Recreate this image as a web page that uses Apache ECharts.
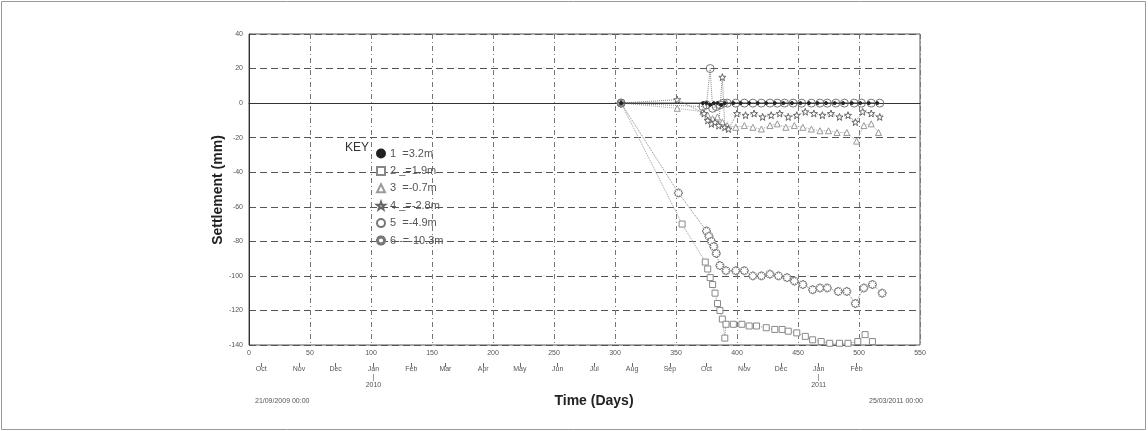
<!DOCTYPE html>
<html><head><meta charset="utf-8">
<script src="https://cdn.jsdelivr.net/npm/echarts@6.0.0/dist/echarts.min.js"></script>
<style>html,body{margin:0;padding:0;background:#fff}#c{width:1148px;height:431px}</style>
</head><body><div id="c"></div>
<script>
// ---- data ----
const monthDays  = [10,41,71,102,133,161,192,222,253,283,314,345,375,406,436,467,498];
const monthNames = ['Oct','Nov','Dec','Jan','Feb','Mar','Apr','May','Jun','Jul','Aug','Sep','Oct','Nov','Dec','Jan','Feb'];
const yearLabels = {102:'2010', 467:'2011'};
const seriesNames = ['1  =3.2m','2 _=1.9m','3  =-0.7m','4 _=-2.8m','5  =-4.9m','6 -=-10.3m'];
const startLabel = '21/09/2009 00:00';
const endLabel = '25/03/2011 00:00';

const s1 = [[305,0],[372,0],[375,0],[378,-1],[381,0],[384,0],[387,-1],[390,0],[397,0],[403,0],[410,0],[417,0],[424,0],[431,0],[438,0],[445,0],[452,0],[459,0],[466,0],[473,0],[480,0],[487,0],[494,0],[501,0],[508,0],[515,0]];
const s2 = [[305,0],[355,-70],[374,-92],[376,-96],[378,-101],[380,-105],[382,-110],[384,-116],[386,-120],[388,-125],[390,-136],[391,-128],[397,-128],[404,-128],[410,-129],[416,-129],[424,-130],[431,-131],[437,-131],[442,-132],[449,-133],[456,-135],[462,-137],[469,-138],[476,-139],[484,-139],[491,-139],[499,-138],[505,-134],[511,-138]];
const s3 = [[305,0],[351,-3],[372,-5],[376,-7],[380,-9],[384,-8],[388,-11],[392,-13],[399,-14],[406,-13],[413,-14],[420,-15],[427,-13],[433,-12],[440,-14],[447,-13],[454,-14],[461,-15],[468,-16],[475,-16],[482,-17],[490,-17],[498,-22],[504,-13],[510,-12],[516,-17]];
const s4 = [[305,0],[351,2],[373,-6],[376,-10],[379,-12],[382,-11],[385,-13],[388,15],[390,-14],[393,-15],[400,-6],[407,-7],[414,-6],[421,-8],[428,-7],[435,-6],[442,-8],[449,-7],[456,-5],[463,-6],[470,-7],[477,-6],[484,-8],[491,-7],[497,-11],[503,-5],[510,-6],[517,-8]];
const s5 = [[305,0],[372,-2],[375,-1],[378,20],[380,-3],[383,-2],[386,-1],[389,0],[392,0],[399,0],[406,0],[413,0],[420,0],[427,0],[433,0],[439,0],[446,0],[453,0],[461,0],[468,0],[474,0],[481,0],[488,0],[496,0],[502,0],[510,0],[517,0]];
const s6 = [[305,0],[352,-52],[375,-74],[377,-77],[379,-80],[381,-83],[383,-87],[386,-94],[391,-97],[399,-97],[406,-97],[413,-100],[420,-100],[427,-99],[434,-100],[441,-101],[447,-103],[454,-105],[462,-108],[468,-107],[474,-107],[483,-109],[490,-109],[497,-116],[504,-107],[511,-105],[519,-110]];

// ---- symbol shapes ----
function polyPath(n, rOut, rIn, rot) {
  const pts = [];
  for (let i = 0; i < n * 2; i++) {
    const a = rot + i * Math.PI / n;
    const r = i % 2 === 0 ? rOut : rIn;
    pts.push((50 + r * Math.cos(a)).toFixed(2) + ' ' + (50 + r * Math.sin(a)).toFixed(2));
  }
  return 'path://M' + pts.join(' L') + ' Z';
}
function gearPath() {
  const pts = [];
  for (let k = 0; k < 8; k++) {
    const c = k * Math.PI / 4;
    [[-0.42,36],[-0.2,50],[0.2,50],[0.42,36]].forEach(([d, r]) => {
      const a = c + d;
      pts.push((50 + r * Math.cos(a)).toFixed(2) + ' ' + (50 + r * Math.sin(a)).toFixed(2));
    });
  }
  return 'path://M' + pts.join(' L') + ' Z';
}
const starSym = polyPath(5, 50, 20, -Math.PI / 2);
const gearSym = gearPath();

const monthSet = new Set(monthDays);
const catData = Array.from({length: 551}, (_, i) => String(i));
const FONT = 'Liberation Sans';

const chart = echarts.init(document.getElementById('c'), null, {renderer: 'canvas'});

function mk(name, data, symbol, size, fill, stroke, lineColor, lineType, z) {
  return {
    name, type: 'line', data, symbol, symbolSize: size, z,
    xAxisIndex: 0, yAxisIndex: 0, animation: false,
    itemStyle: {color: fill, borderColor: stroke, borderWidth: 1},
    lineStyle: {color: lineColor, width: 1, type: lineType}
  };
}

chart.setOption({
  backgroundColor: '#fff',
  animation: false,
  textStyle: {fontFamily: FONT},
  grid: {left: 249, right: 228, top: 34, bottom: 86, show: true, borderColor: '#555', borderWidth: 1},
  xAxis: [{
    type: 'value', min: 0, max: 550, interval: 50, position: 'bottom',
    axisLine: {show: true, lineStyle: {color: '#333'}},
    axisTick: {show: false},
    axisLabel: {fontSize: 7, color: '#555', margin: 5},
    splitLine: {show: true, lineStyle: {color: '#777', type: [5, 3, 1, 3]}}
  }, {
    type: 'category', data: catData, boundaryGap: false, position: 'bottom', offset: 18,
    axisLine: {show: false},
    axisTick: {show: true, length: 4, interval: (i) => monthSet.has(i), lineStyle: {color: '#666'}},
    axisLabel: {
      show: true, interval: (i) => monthSet.has(i), margin: 2, fontSize: 7, color: '#555', lineHeight: 8,
      formatter: (v, i) => {
        const d = +v; const k = monthDays.indexOf(d);
        if (k < 0) return '';
        return yearLabels[d] ? monthNames[k] + '\n|\n' + yearLabels[d] : monthNames[k];
      }
    },
    splitLine: {show: false}
  }],
  yAxis: {
    type: 'value', min: -140, max: 40, interval: 20,
    axisLine: {show: true, lineStyle: {color: '#333'}},
    axisTick: {show: false},
    axisLabel: {fontSize: 7, color: '#555', margin: 6},
    splitLine: {show: true, lineStyle: {color: '#555', type: [7, 4]}}
  },
  legend: {
    orient: 'vertical', left: 371, top: 143, itemWidth: 8, itemHeight: 8, itemGap: 6.4,
    textStyle: {fontSize: 11, color: '#555', fontFamily: FONT},
    data: [
      {name: seriesNames[0], icon: 'circle'},
      {name: seriesNames[1], icon: 'rect'},
      {name: seriesNames[2], icon: 'triangle'},
      {name: seriesNames[3], icon: starSym},
      {name: seriesNames[4], icon: 'circle'},
      {name: seriesNames[5], icon: gearSym}
    ]
  },
  graphic: [
    {type: 'rect', shape: {x: 1.5, y: 1.5, width: 1144, height: 428}, style: {fill: 'none', stroke: '#999', lineWidth: 1}, silent: true},
    {type: 'text', left: 345, top: 142, style: {text: 'KEY', font: '12px Liberation Sans', fill: '#333'}},
    {type: 'text', x: 218, y: 190, rotation: Math.PI / 2, style: {text: 'Settlement (mm)', font: 'bold 14px Liberation Sans', fill: '#222', textAlign: 'center', textVerticalAlign: 'middle'}},
    {type: 'text', x: 594, y: 401, style: {text: 'Time (Days)', font: 'bold 14px Liberation Sans', fill: '#222', textAlign: 'center', textVerticalAlign: 'middle'}},
    {type: 'text', x: 255, y: 401, style: {text: startLabel, font: '7px Liberation Sans', fill: '#555', textVerticalAlign: 'middle'}},
    {type: 'text', x: 869, y: 401, style: {text: endLabel, font: '7px Liberation Sans', fill: '#555', textVerticalAlign: 'middle'}}
  ],
  series: [
    mk(seriesNames[1], s2, 'rect', 6, '#fff', '#888', '#999', 'dotted', 2),
    mk(seriesNames[5], s6, gearSym, 8, '#fff', '#777', '#888', 'dotted', 2),
    mk(seriesNames[2], s3, 'triangle', 6, '#fff', '#999', '#aaa', 'dotted', 3),
    mk(seriesNames[3], s4, starSym, 7, '#fff', '#666', '#888', 'dotted', 3),
    mk(seriesNames[4], s5, 'circle', 8, 'rgba(255,255,255,0)', '#777', '#888', 'dotted', 4),
    mk(seriesNames[0], s1, 'circle', 3, '#222', '#222', '#333', 'solid', 5)
  ]
});
</script>
</body></html>
